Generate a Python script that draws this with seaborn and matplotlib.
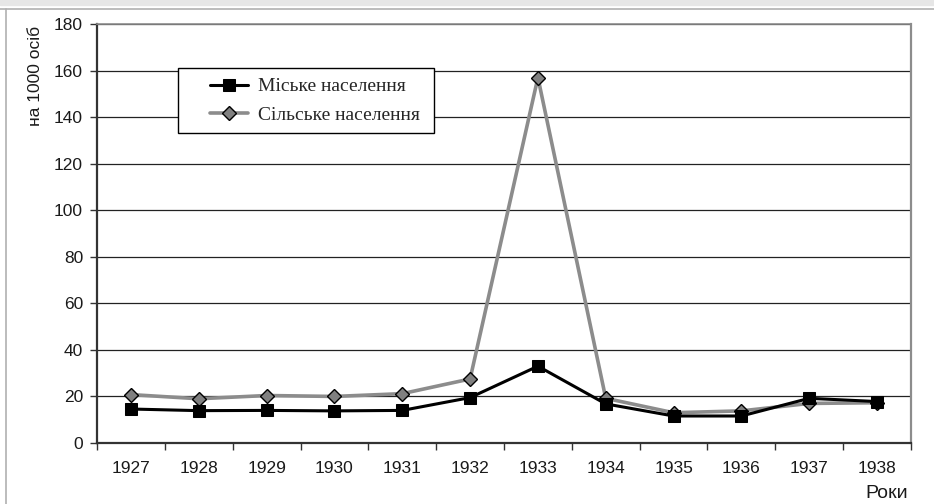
import matplotlib
matplotlib.use('Agg')
import matplotlib.pyplot as plt
import pandas as pd
import seaborn as sns
from matplotlib.lines import Line2D
from matplotlib.legend_handler import HandlerLine2D

# Дані (на 1000 осіб)
roky = ['1927', '1928', '1929', '1930', '1931', '1932',
        '1933', '1934', '1935', '1936', '1937', '1938']
miske = [14.6, 13.9, 14.0, 13.8, 14.0, 19.5, 33.0, 16.8, 11.6, 11.6, 19.2, 17.8]
silske = [20.8, 19.0, 20.4, 20.0, 21.2, 27.5, 157.0, 19.2, 13.0, 13.8, 17.0, 17.3]

df = pd.DataFrame({'rik': roky, 'miske': miske, 'silske': silske})

sns.set_theme(style="white")
plt.rcParams['font.family'] = ['Liberation Sans', 'DejaVu Sans']

fig = plt.figure(figsize=(9.34, 5.04), dpi=100)
ax = fig.add_axes([97 / 934, 1 - 443 / 504, 814 / 934, 419 / 504])

# рамка сторінки
fig.patches.append(plt.Rectangle((0, 1 - 5 / 504), 1, 5 / 504, transform=fig.transFigure,
                                 color='#e6e6e6', zorder=0))
fig.add_artist(Line2D([0, 1], [1 - 9 / 504] * 2, color='#b0b0b0', lw=1.2, transform=fig.transFigure))
fig.add_artist(Line2D([6 / 934] * 2, [0, 1 - 9 / 504], color='#b0b0b0', lw=1.2, transform=fig.transFigure))

sns.lineplot(data=df, x='rik', y='silske', ax=ax, color='#8c8c8c', lw=2.6,
             marker='D', markersize=7, markerfacecolor='#808080',
             markeredgecolor='black', markeredgewidth=1.0, label='Сільське населення ',
             zorder=3)
sns.lineplot(data=df, x='rik', y='miske', ax=ax, color='black', lw=2.2,
             marker='s', markersize=9, markerfacecolor='black',
             markeredgecolor='black', label='Міське населення', zorder=4)

ax.set_ylim(0, 180)
ax.set_yticks(range(0, 181, 20))
ax.set_xlim(-0.5, len(roky) - 0.5)
ax.set_xticks(range(len(roky)))
ax.set_xticklabels(roky)
ax.set_xticks([i - 0.5 for i in range(len(roky) + 1)], minor=True)
ax.tick_params(axis='x', which='major', length=0, pad=13, labelsize=12.5, colors='#1a1a1a')
ax.tick_params(axis='x', which='minor', length=5, width=1, color='#333333', direction='out', bottom=True)
ax.tick_params(axis='y', length=5, width=1, color='#333333', direction='out', left=True,
               labelsize=12.5, pad=5, labelcolor='#1a1a1a')

ax.yaxis.grid(True, color='#222222', lw=0.9)
ax.set_axisbelow(True)
for s in ['left', 'bottom']:
    ax.spines[s].set_color('#333333')
    ax.spines[s].set_linewidth(1.6)
ax.spines['right'].set_color('#8c8c8c')
ax.spines['right'].set_linewidth(1.6)
ax.spines['top'].set_color('#8c8c8c')
ax.spines['top'].set_linewidth(1.2)

ax.set_xlabel('')
ax.set_ylabel('')
fig.text(35 / 934, 1 - 26 / 504, 'на 1000 осіб', rotation=90, ha='center', va='top',
         fontsize=12.5, color='#1a1a1a')
fig.text(887 / 934, 1 - 493 / 504, 'Роки', ha='center', va='center', fontsize=14, color='#1a1a1a')

handles, labels = ax.get_legend_handles_labels()
leg = ax.legend(handles[::-1], labels[::-1], loc='upper left', bbox_to_anchor=(81 / 814, 375 / 419),
                borderaxespad=0, frameon=True, fancybox=False, edgecolor='black',
                framealpha=1, prop={'family': 'Liberation Serif', 'size': 14},
                handlelength=3.1, borderpad=0.5, labelspacing=0.55, handletextpad=0.5,
                handler_map={h: HandlerLine2D(xpad=1.15) for h in handles})
leg.get_frame().set_linewidth(1.0)

fig.savefig('out.png', dpi=100)
